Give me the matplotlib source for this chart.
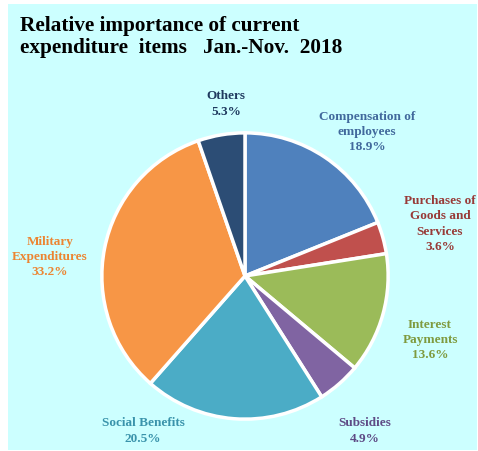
import matplotlib.pyplot as plt
from matplotlib.patches import Rectangle

plt.rcParams["font.family"] = ["Liberation Serif", "DejaVu Serif"]
plt.rcParams["font.weight"] = "bold"

# expenditure items, clockwise from 12 o'clock
items = ["Compensation of\nemployees", "Purchases of\nGoods and\nServices",
         "Interest\nPayments", "Subsidies", "Social Benefits",
         "Military\nExpenditures", "Others"]
shares = [18.9, 3.6, 13.6, 4.9, 20.5, 33.2, 5.3]

wedge_colors = ["#4f81bd", "#c0504d", "#9bbb59", "#8064a2", "#4bacc6", "#f79646", "#2c4d75"]
text_colors = ["#41699c", "#983a37", "#7f9a3e", "#5e4a85", "#3a93ab", "#ec8532", "#1f3a5f"]

# label anchors in figure pixels (x, y from top)
label_pos = [(367, 132), (440, 224), (430, 340), (365, 431), (143, 431), (50, 257), (226, 104)]

W, H = 478, 452
fig = plt.figure(figsize=(W / 100, H / 100), dpi=100)
fig.patch.set_facecolor("white")
fig.patches.append(Rectangle((8 / W, 1 / H), 469 / W, 446 / H, transform=fig.transFigure,
                             facecolor="#ccffff", edgecolor="none", zorder=-1))

cx, cy, r = 245, 277, 146
ax = fig.add_axes([(cx - r) / W, (H - cy - r) / H, 2 * r / W, 2 * r / H])
ax.pie(shares, colors=wedge_colors, startangle=90, counterclock=False, radius=1,
       wedgeprops=dict(edgecolor="white", linewidth=2.5))
ax.set_xlim(-1.02, 1.02)
ax.set_ylim(-1.02, 1.02)
ax.set_aspect("equal")
ax.axis("off")

for name, val, col, (x, y) in zip(items, shares, text_colors, label_pos):
    fig.text(x / W, 1 - y / H, f"{name}\n{val}%", color=col, fontsize=9.5,
             fontweight="bold", ha="center", va="center", linespacing=1.35)

fig.text(20 / W, 1 - 16 / H, "Relative importance of current\nexpenditure  items   Jan.-Nov.  2018",
         fontsize=15.3, fontweight="bold", ha="left", va="top", linespacing=1.15)

fig.savefig("out.png", dpi=100)
